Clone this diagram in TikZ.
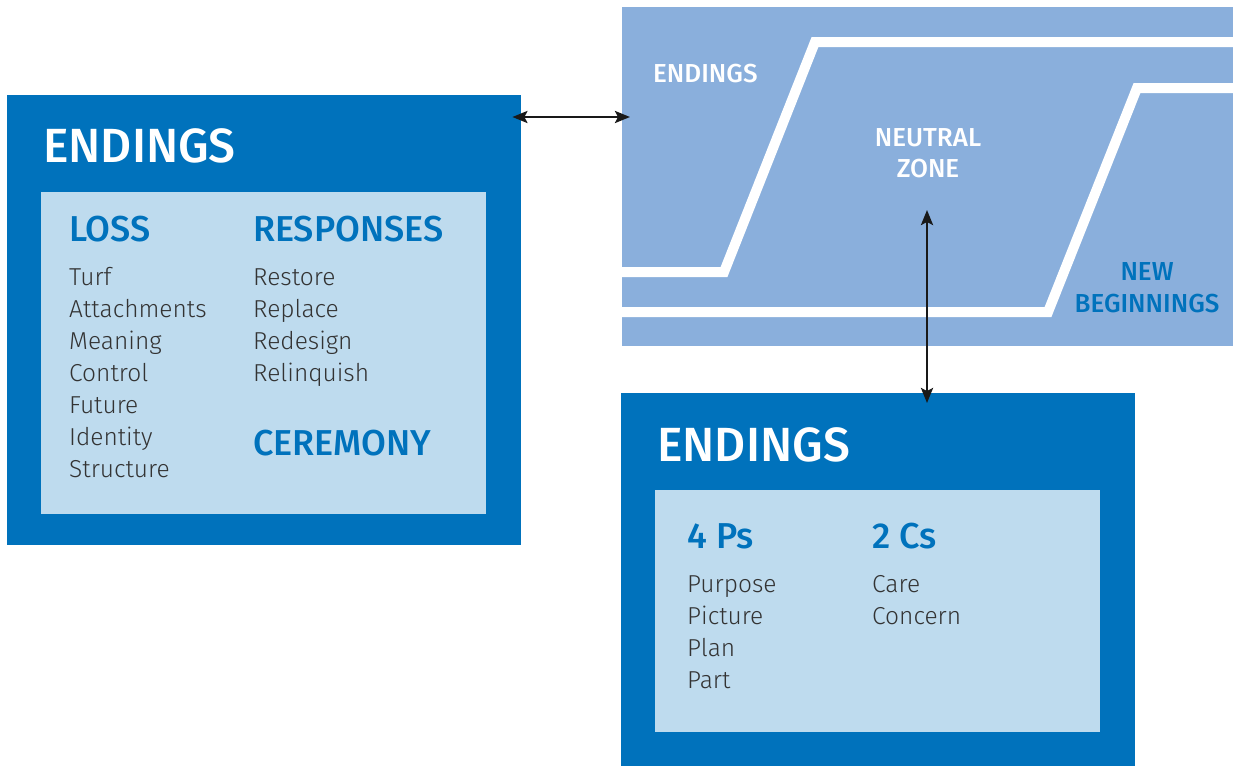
\documentclass[tikz,border=0pt]{standalone}
\usepackage{fontspec}
\setmainfont{Fira Sans}
\newfontfamily\lightf{Fira Sans Light}
\newfontfamily\medf{Fira Sans Medium}
\usetikzlibrary{arrows.meta}
\definecolor{dblue}{HTML}{0072BC}
\definecolor{lblue}{HTML}{BEDBEE}
\definecolor{pblue}{HTML}{8AAFDC}
\definecolor{txt}{HTML}{333333}
\tikzset{
  box/.style={fill=#1, draw=none, inner sep=0pt, anchor=north west},
  bigtitle/.style={anchor=base west, inner sep=0pt, text=white, font=\medf\fontsize{48}{48}\selectfont},
  head/.style={anchor=base west, inner sep=0pt, text=dblue, font=\medf\fontsize{36}{36}\selectfont},
  item/.style={anchor=base west, inner sep=0pt, text=txt, font=\lightf\fontsize{24.5}{24.5}\selectfont},
  ptext/.style={anchor=base, inner sep=0pt, font=\medf\fontsize{26}{26}\selectfont},
  band/.style={draw=white, line width=10pt, line join=miter},
  arr/.style={draw=black!90, line width=2.6pt, {Stealth[length=15pt,width=12pt,inset=3pt]}-{Stealth[length=15pt,width=12pt,inset=3pt]}}
}
\begin{document}
\begin{tikzpicture}[x=1pt,y=-1pt]
\useasboundingbox (0,0) rectangle (1233,766);
\fill[white] (0,0) rectangle (1233,766);
% top-right panel
\node[box=pblue, minimum width=611pt, minimum height=339pt] (panel) at (622,7) {};
\begin{scope}
\clip (622,7) rectangle (1233,346);
\draw[band] (610,272) -- (724,272) -- (815,42) -- (1245,42);
\draw[band] (610,312) -- (1048,312) -- (1137,88) -- (1245,88);
\end{scope}
\node[anchor=base west, inner sep=0pt, text=white, font=\medf\fontsize{26}{26}\selectfont] (pend) at (653,82) {ENDINGS};
\node[ptext, text=white] (nz1) at (928,146) {NEUTRAL};
\node[ptext, text=white] (nz2) at (928,177) {ZONE};
\node[ptext, text=dblue] (nb1) at (1147,280) {NEW};
\node[ptext, text=dblue] (nb2) at (1147,312) {BEGINNINGS};
% left box
\node[box=dblue, minimum width=514pt, minimum height=450pt] (leftbox) at (7,95) {};
\node[box=lblue, minimum width=445pt, minimum height=322pt] (leftin) at (41,192) {};
\node[bigtitle] (lt) at (43,162) {ENDINGS};
\node[head] (loss) at (69,241) {LOSS};
\node[head] (resp) at (253,241) {RESPONSES};
\node[head] (cer) at (253,455) {CEREMONY};
\node[item] (l1) at (69,285) {Turf};
\node[item] (l2) at (69,317) {Attachments};
\node[item] (l3) at (69,349) {Meaning};
\node[item] (l4) at (69,381) {Control};
\node[item] (l5) at (69,413) {Future};
\node[item] (l6) at (69,445) {Identity};
\node[item] (l7) at (69,477) {Structure};
\node[item] (r1) at (253,285) {Restore};
\node[item] (r2) at (253,317) {Replace};
\node[item] (r3) at (253,349) {Redesign};
\node[item] (r4) at (253,381) {Relinquish};
% bottom box
\node[box=dblue, minimum width=514pt, minimum height=373pt] (botbox) at (621,393) {};
\node[box=lblue, minimum width=445pt, minimum height=242pt] (botin) at (655,490) {};
\node[bigtitle] (bt) at (657,461) {ENDINGS};
\node[head] (ps) at (687,548) {4 Ps};
\node[head] (cs) at (872,548) {2 Cs};
\node[item] (p1) at (687,592) {Purpose};
\node[item] (p2) at (687,624) {Picture};
\node[item] (p3) at (687,656) {Plan};
\node[item] (p4) at (687,688) {Part};
\node[item] (c1) at (872,592) {Care};
\node[item] (c2) at (872,624) {Concern};
% connectors
\coordinate (nzpt) at (927,210);
\draw[arr] ([xshift=-9pt,yshift=-22pt]leftbox.north east) -- ([xshift=8pt,yshift=-110pt]panel.north west);
\draw[arr] (nzpt) -- ([yshift=-10pt]botbox.north west -| nzpt);
\end{tikzpicture}
\end{document}
